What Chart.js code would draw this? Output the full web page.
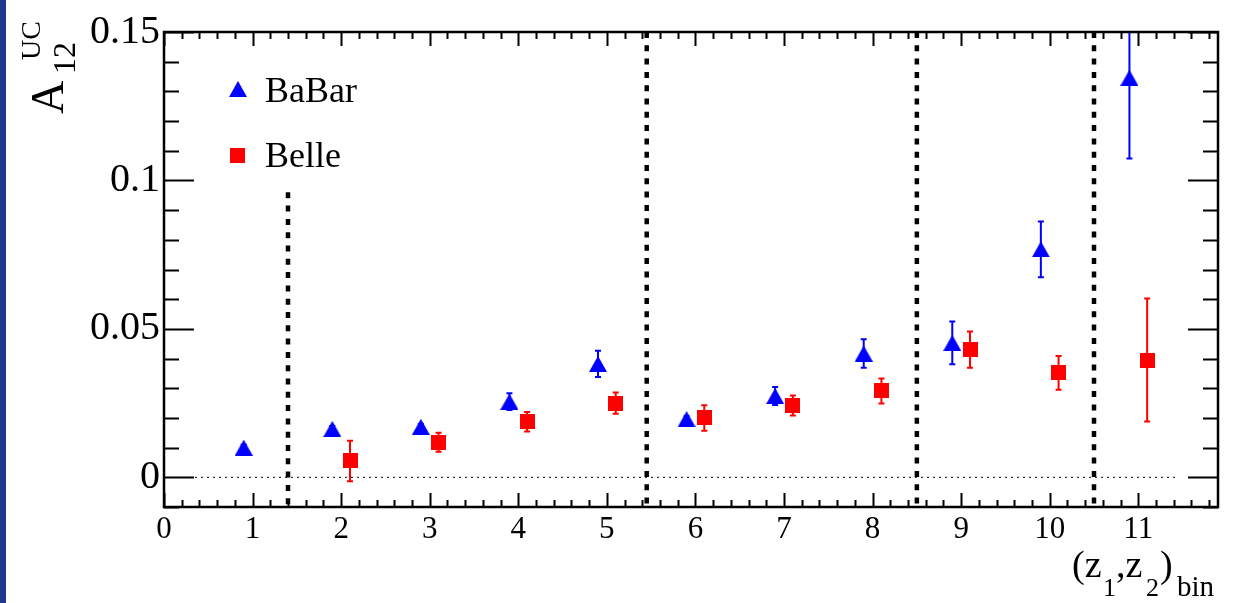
<!DOCTYPE html>
<html>
<head>
<meta charset="utf-8">
<script src="https://cdn.jsdelivr.net/npm/chart.js@4/dist/chart.umd.min.js"></script>
<style>
  html, body { margin: 0; padding: 0; background: #fff; }
  canvas { display: block; }
</style>
</head>
<body>
<canvas id="asym-chart" width="1241" height="603"></canvas>
<script>
// --- Data ---
const babarX = [0.9, 1.9, 2.9, 3.9, 4.9, 5.9, 6.9, 7.9, 8.9, 9.9, 10.9];
const babarY = [0.0100, 0.0163, 0.0170, 0.0255, 0.0382, 0.0196, 0.0274, 0.0417, 0.0453, 0.0768, 0.1346];
const babarErr = [0.001, 0.001, 0.001, 0.0028, 0.0044, 0.001, 0.003, 0.0048, 0.0072, 0.0094, 0.0272];

const belleX = [2.1, 3.1, 4.1, 5.1, 6.1, 7.1, 8.1, 9.1, 10.1, 11.1];
const belleY = [0.0055, 0.0118, 0.0187, 0.0250, 0.0200, 0.0242, 0.0291, 0.0430, 0.0352, 0.0395];
const belleErr = [0.0068, 0.0032, 0.0033, 0.0036, 0.0043, 0.0034, 0.0042, 0.0061, 0.0057, 0.0207];

// bin separators (x position, top of the line)
const sepX = [1.4, 5.45, 8.5, 10.5];
const sepTop = [0.096, 0.15, 0.15, 0.15];

const xTickValues = [0, 1, 2, 3, 4, 5, 6, 7, 8, 9, 10, 11];
const xTickLabels = ['0', '1', '2', '3', '4', '5', '6', '7', '8', '9', '10', '11'];
const yTickValues = [0, 0.05, 0.1, 0.15];
const yTickLabels = ['0', '0.05', '0.1', '0.15'];

const SERIF = "'Liberation Serif', 'DejaVu Serif', serif";

// --- Marker images (ROOT style full triangle / full square) ---
function makeTriangle(color) {
    const c = document.createElement('canvas');
    c.width = 18; c.height = 16;
    const g = c.getContext('2d');
    g.fillStyle = color;
    g.beginPath();
    g.moveTo(0, 16); g.lineTo(18, 16); g.lineTo(9, 0);
    g.closePath();
    g.fill();
    return c;
}
function makeSquare(color) {
    const c = document.createElement('canvas');
    c.width = 15; c.height = 15;
    const g = c.getContext('2d');
    g.fillStyle = color;
    g.fillRect(0, 0, 15, 15);
    return c;
}
const triBlue = makeTriangle('#0000ff');
const sqRed = makeSquare('#ff0000');

// --- Plugins ---
const background = {
    id: 'background',
    beforeDraw(chart) {
        const ctx = chart.ctx;
        ctx.save();
        ctx.fillStyle = '#ffffff';
        ctx.fillRect(0, 0, chart.width, chart.height);
        ctx.fillStyle = '#203890';
        ctx.fillRect(0, 0, 6, chart.height);
        ctx.restore();
    }
};

const errorBars = {
    id: 'errorBars',
    beforeDatasetsDraw(chart) {
        const { ctx, chartArea: a, scales: { x, y } } = chart;
        ctx.save();
        ctx.beginPath();
        ctx.rect(a.left, a.top, a.right - a.left, a.bottom - a.top);
        ctx.clip();
        chart.data.datasets.forEach(ds => {
            if (!ds.errors) return;
            ctx.strokeStyle = ds.errColor;
            ctx.lineWidth = 2;
            ds.data.forEach((p, i) => {
                const px = x.getPixelForValue(p.x);
                const yHi = y.getPixelForValue(p.y + ds.errors[i]);
                const yLo = y.getPixelForValue(p.y - ds.errors[i]);
                ctx.beginPath();
                ctx.moveTo(px, yHi); ctx.lineTo(px, yLo);
                ctx.moveTo(px - 3, yHi); ctx.lineTo(px + 3, yHi);
                ctx.moveTo(px - 3, yLo); ctx.lineTo(px + 3, yLo);
                ctx.stroke();
            });
        });
        ctx.restore();
    }
};

// frame + inward ticks on all four sides, like ROOT
const frameTicks = {
    id: 'frameTicks',
    afterDatasetsDraw(chart) {
        const { ctx, chartArea: a, scales: { x, y } } = chart;
        ctx.save();
        ctx.strokeStyle = '#000';
        ctx.lineWidth = 2;
        ctx.beginPath();
        for (let i = 0; i <= 59; i++) {
            const v = i * 0.2;
            if (v > x.max + 1e-9) break;
            const px = Math.round(x.getPixelForValue(v)) + 0.5;
            const len = (i % 5 === 0) ? 14 : 7;
            ctx.moveTo(px, a.bottom); ctx.lineTo(px, a.bottom - len);
            ctx.moveTo(px, a.top); ctx.lineTo(px, a.top + len);
        }
        for (let i = -1; i <= 15; i++) {
            const v = i * 0.01;
            const py = Math.round(y.getPixelForValue(v)) + 0.5;
            const len = (i % 5 === 0) ? 30 : 15;
            ctx.moveTo(a.left, py); ctx.lineTo(a.left + len, py);
            ctx.moveTo(a.right, py); ctx.lineTo(a.right - len, py);
        }
        ctx.stroke();
        ctx.lineWidth = 2.5;
        ctx.strokeRect(a.left, a.top, a.right - a.left, a.bottom - a.top);
        ctx.restore();
    }
};

const textLayer = {
    id: 'textLayer',
    afterDraw(chart) {
        const ctx = chart.ctx;
        ctx.save();
        ctx.fillStyle = '#000';
        ctx.textBaseline = 'alphabetic';

        // legend
        ctx.drawImage(triBlue, 238 - 9, 89 - 8);
        ctx.drawImage(sqRed, 237 - 7.5, 155 - 7.5);
        ctx.font = '36px ' + SERIF;
        ctx.fillText('BaBar', 265, 102);
        ctx.fillText('Belle', 265, 167);

        // x title (z1,z2)bin
        ctx.font = '38px ' + SERIF;
        ctx.fillText('(z', 1072, 577);
        ctx.fillText(',z', 1116, 577);
        ctx.fillText(')', 1160, 577);
        ctx.font = '26px ' + SERIF;
        ctx.fillText('1', 1103, 596);
        ctx.fillText('2', 1146, 596);
        ctx.font = '29px ' + SERIF;
        ctx.fillText('bin', 1177, 596);

        // y title A^UC_12 (rotated)
        ctx.rotate(-Math.PI / 2);
        ctx.font = '46px ' + SERIF;
        ctx.fillText('A', -114, 63);
        ctx.font = '32px ' + SERIF;
        ctx.fillText('12', -74, 75);
        ctx.font = '28px ' + SERIF;
        ctx.fillText('UC', -60, 40);
        ctx.restore();
    }
};

// --- Datasets ---
const datasets = [
    {
        label: 'BaBar',
        data: babarX.map((v, i) => ({ x: v, y: babarY[i] })),
        errors: babarErr,
        errColor: '#0000ff',
        pointStyle: triBlue,
        showLine: false
    },
    {
        label: 'Belle',
        data: belleX.map((v, i) => ({ x: v, y: belleY[i] })),
        errors: belleErr,
        errColor: '#ff0000',
        pointStyle: sqRed,
        showLine: false
    },
    {
        label: 'zero',
        data: [{ x: 0.35, y: 0 }, { x: 11.45, y: 0 }],
        showLine: true,
        borderColor: '#000',
        borderWidth: 1,
        borderDash: [2, 4],
        pointRadius: 0
    }
];
sepX.forEach((sx, i) => {
    datasets.push({
        label: 'sep' + i,
        data: [{ x: sx, y: sepTop[i] }, { x: sx, y: -0.01 }],
        showLine: true,
        borderColor: '#000',
        borderWidth: 4.5,
        borderDash: [6, 7.3],
        borderCapStyle: 'butt',
        pointRadius: 0
    });
});

new Chart(document.getElementById('asym-chart'), {
    type: 'scatter',
    data: { datasets: datasets },
    options: {
        responsive: false,
        animation: false,
        events: [],
        layout: { padding: { top: 32, right: 23, left: 0, bottom: 0 } },
        plugins: {
            legend: { display: false },
            tooltip: { enabled: false }
        },
        scales: {
            x: {
                type: 'linear',
                min: 0, max: 11.9,
                grid: { display: false, drawTicks: false },
                border: { display: false },
                afterBuildTicks: s => { s.ticks = xTickValues.map(v => ({ value: v })); },
                afterFit: s => { s.height = 96; },
                ticks: {
                    autoSkip: false,
                    maxRotation: 0,
                    padding: 4,
                    color: '#000',
                    font: { family: SERIF, size: 31 },
                    callback: (v, i) => xTickLabels[i]
                }
            },
            y: {
                type: 'linear',
                min: -0.01, max: 0.15,
                grid: { display: false, drawTicks: false },
                border: { display: false },
                afterBuildTicks: s => { s.ticks = yTickValues.map(v => ({ value: v })); },
                afterFit: s => { s.width = 164; },
                ticks: {
                    autoSkip: false,
                    padding: 4,
                    color: '#000',
                    font: { family: SERIF, size: 40 },
                    callback: (v, i) => yTickLabels[i]
                }
            }
        }
    },
    plugins: [background, errorBars, frameTicks, textLayer]
});
</script>
</body>
</html>
